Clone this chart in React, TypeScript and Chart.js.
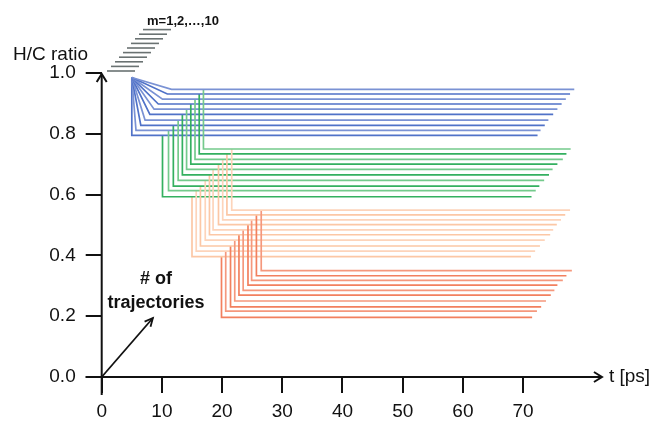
import React, { useEffect, useRef } from 'react';
import { Chart, registerables } from 'chart.js';

Chart.register(...registerables);

// ---- tick labels ----
const xTicks = [0, 10, 20, 30, 40, 50, 60, 70];
const yTicks = [0, 0.2, 0.4, 0.6, 0.8, 1.0];

// ---- data: m = 1 (front) ... 10 (back) ----
const fanOrigin = { t: 5.0, hc: 0.985 };

const blueStart = [5.0, 5.7, 6.5, 7.2, 8.0, 8.7, 9.4, 10.1, 10.9, 11.6];
const blueLevel = [0.795, 0.811, 0.828, 0.845, 0.864, 0.881, 0.898, 0.914, 0.931, 0.946];
const blueEnd = [72.4, 72.9, 73.6, 74.2, 75.0, 75.7, 76.4, 77.1, 77.8, 78.5];

const greenStart = [10.1, 11.1, 11.9, 12.7, 13.4, 14.1, 14.8, 15.5, 16.2, 16.9];
const greenLevel = [0.593, 0.613, 0.628, 0.647, 0.665, 0.683, 0.7, 0.716, 0.734, 0.75];
const greenEnd = [71.4, 72.1, 72.7, 73.5, 74.3, 74.9, 75.7, 76.6, 77.2, 77.9];

const peachStart = [15.0, 15.7, 16.4, 17.2, 17.9, 18.5, 19.4, 20.1, 20.8, 21.6];
const peachLevel = [0.396, 0.414, 0.431, 0.45, 0.468, 0.484, 0.501, 0.517, 0.533, 0.549];
const peachEnd = [71.3, 72.0, 72.8, 73.6, 74.5, 75.0, 75.6, 76.3, 77.0, 77.8];

const redStart = [19.9, 20.6, 21.4, 22.1, 22.8, 23.5, 24.3, 24.9, 25.7, 26.5];
const redLevel = [0.196, 0.217, 0.231, 0.25, 0.269, 0.285, 0.302, 0.318, 0.333, 0.35];
const redEnd = [71.5, 72.3, 73.0, 73.8, 74.6, 75.2, 75.7, 76.6, 77.2, 78.1];

const blueColors = ['#5072c8', '#7a92d4'];
const greenColors = ['#34b060', '#74ca8c'];
const peachColors = ['#fcc7a5', '#fdd4ba'];
const redColors = ['#f2805f', '#f5987d'];

const FONT = "'Liberation Sans', Arial, sans-serif";

function buildDatasets() {
  const ds: any[] = [];
  const mk = (pts: { x: number; y: number }[], color: string) => ({
    data: pts,
    showLine: true,
    borderColor: color,
    borderWidth: 1.7,
    pointRadius: 0,
    tension: 0,
    fill: false,
  });
  for (let m = blueStart.length - 1; m >= 0; m--) {
    const c = m % 2;
    ds.push(
      mk(
        [
          { x: fanOrigin.t, y: fanOrigin.hc },
          { x: blueStart[m], y: blueLevel[m] },
          { x: blueEnd[m], y: blueLevel[m] },
        ],
        blueColors[c]
      )
    );
    ds.push(
      mk(
        [
          { x: greenStart[m], y: blueLevel[m] },
          { x: greenStart[m], y: greenLevel[m] },
          { x: greenEnd[m], y: greenLevel[m] },
        ],
        greenColors[c]
      )
    );
    ds.push(
      mk(
        [
          { x: peachStart[m], y: greenLevel[m] },
          { x: peachStart[m], y: peachLevel[m] },
          { x: peachEnd[m], y: peachLevel[m] },
        ],
        peachColors[c]
      )
    );
    ds.push(
      mk(
        [
          { x: redStart[m], y: peachLevel[m] },
          { x: redStart[m], y: redLevel[m] },
          { x: redEnd[m], y: redLevel[m] },
        ],
        redColors[c]
      )
    );
  }
  return ds;
}

const decorPlugin = {
  id: 'decor',
  afterDraw(chart: any) {
    const ctx = chart.ctx as CanvasRenderingContext2D;
    const xs = chart.scales.x;
    const ys = chart.scales.y;
    const x0 = xs.getPixelForValue(0);
    const y0 = ys.getPixelForValue(0);
    const yTop = ys.getPixelForValue(1.0);
    const xTip = xs.getPixelForValue(83.1);
    ctx.save();
    ctx.strokeStyle = '#111';
    ctx.fillStyle = '#111';
    ctx.lineWidth = 2;
    ctx.lineCap = 'butt';
    // y axis
    ctx.beginPath();
    ctx.moveTo(x0, y0 + 18);
    ctx.lineTo(x0, yTop + 1);
    ctx.stroke();
    ctx.beginPath();
    ctx.moveTo(x0 - 5, yTop + 9);
    ctx.lineTo(x0, yTop + 1);
    ctx.lineTo(x0 + 5, yTop + 9);
    ctx.stroke();
    // x axis
    ctx.beginPath();
    ctx.moveTo(x0 - 16, y0);
    ctx.lineTo(xTip, y0);
    ctx.stroke();
    ctx.beginPath();
    ctx.moveTo(xTip - 8, y0 - 5);
    ctx.lineTo(xTip, y0);
    ctx.lineTo(xTip - 8, y0 + 5);
    ctx.stroke();

    // # of trajectories arrow
    const ax = xs.getPixelForValue(8.5);
    const ay = ys.getPixelForValue(0.194);
    ctx.lineWidth = 1.8;
    ctx.beginPath();
    ctx.moveTo(x0, y0);
    ctx.lineTo(ax, ay);
    ctx.stroke();
    const ang = Math.atan2(ay - y0, ax - x0);
    ctx.beginPath();
    ctx.moveTo(ax - 9 * Math.cos(ang - 0.45), ay - 9 * Math.sin(ang - 0.45));
    ctx.lineTo(ax, ay);
    ctx.lineTo(ax - 9 * Math.cos(ang + 0.45), ay - 9 * Math.sin(ang + 0.45));
    ctx.stroke();

    // texts
    ctx.textBaseline = 'middle';
    ctx.textAlign = 'left';
    ctx.font = `19px ${FONT}`;
    ctx.fillText('H/C ratio', 13, 55);
    ctx.font = `19px ${FONT}`;
    ctx.fillText('t [ps]', xTip + 7, y0);
    ctx.textAlign = 'center';
    ctx.font = `bold 18px ${FONT}`;
    ctx.fillText('# of', 156, 279);
    ctx.fillText('trajectories', 156, 303);

    // depth legend
    ctx.strokeStyle = '#6a7272';
    ctx.lineWidth = 1.6;
    for (let k = 0; k < 10; k++) {
      const lx = 107 + k * 4;
      const ly = 71 - k * 4.6;
      ctx.beginPath();
      ctx.moveTo(lx, ly);
      ctx.lineTo(lx + 28, ly);
      ctx.stroke();
    }
    ctx.fillStyle = '#111';
    ctx.textAlign = 'left';
    ctx.font = `bold 13px ${FONT}`;
    ctx.fillText('m=1,2,\u2026,10', 147, 21);
    ctx.restore();
  },
};

export default function App() {
  const ref = useRef<HTMLCanvasElement | null>(null);
  useEffect(() => {
    if (!ref.current) return;
    const chart = new Chart(ref.current, {
      type: 'scatter',
      data: { datasets: buildDatasets() },
      options: {
        animation: false,
        responsive: true,
        maintainAspectRatio: false,
        layout: { padding: { left: 0, right: 13.5, top: 73, bottom: 0 } },
        plugins: { legend: { display: false }, tooltip: { enabled: false } },
        scales: {
          x: {
            type: 'linear',
            min: 0,
            max: 90,
            afterBuildTicks: (s: any) => {
              s.ticks = xTicks.map((v) => ({ value: v }));
            },
            afterFit: (s: any) => {
              s.height = 45;
            },
            ticks: {
              autoSkip: false,
              maxRotation: 0,
              padding: 7,
              color: '#111',
              font: { family: FONT, size: 19 },
              callback: (v: any) => String(v),
            },
            grid: { drawOnChartArea: false, drawTicks: true, tickLength: 16, color: '#111', lineWidth: 2 },
            border: { display: false },
          },
          y: {
            type: 'linear',
            min: 0,
            max: 1.0,
            afterBuildTicks: (s: any) => {
              s.ticks = yTicks.map((v) => ({ value: v }));
            },
            afterFit: (s: any) => {
              s.width = 101.7;
            },
            ticks: {
              padding: 10,
              color: '#111',
              font: { family: FONT, size: 19 },
              callback: (v: any) => Number(v).toFixed(1),
            },
            grid: { drawOnChartArea: false, drawTicks: true, tickLength: 16, color: '#111', lineWidth: 2 },
            border: { display: false },
          },
        },
      },
      plugins: [decorPlugin],
    });
    return () => chart.destroy();
  }, []);
  return (
    <div style={{ position: 'absolute', left: 0, top: 0, width: 657, height: 422, background: '#fff' }}>
      <canvas ref={ref} />
    </div>
  );
}
